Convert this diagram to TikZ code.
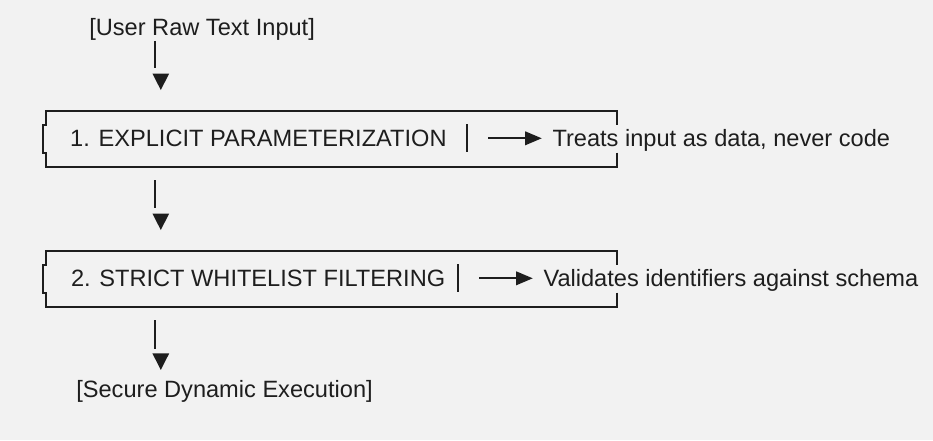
\documentclass[tikz,border=0pt]{standalone}
\usepackage{fontspec}
\setmainfont{Liberation Sans}
\usetikzlibrary{arrows.meta,calc}

\definecolor{paper}{HTML}{F2F2F2}
\definecolor{ink}{HTML}{1E1E1E}

\tikzset{
  words/.style={inner sep=0pt, outer sep=0pt, anchor=base west, text=ink,
    font=\fontsize{23.6}{28}\selectfont},
  stepframe/.style={minimum width=571.2pt, minimum height=56pt, inner sep=0pt, outer sep=0pt},
  frameline/.style={draw=ink, line width=2pt},
  stemline/.style={draw=ink, line width=2pt},
  aside/.style={draw=ink, line width=2pt,
    -{Triangle[width=14pt,length=16.5pt,line width=0pt]}}
}

% outline of a step box: notch on the left, gap on the right
\newcommand\notchedframe[1]{%
  \draw[frameline] ($(#1.east)+(0,13.8)$) -- (#1.south east) -- (#1.south west)
    -- ($(#1.west)+(0,13.8)$) -- ++(-2.2,0) -- ++(0,-27.6) -- ++(2.2,0)
    -- (#1.north west) -- (#1.north east) -- ($(#1.east)+(0,-13.8)$);}
% downward arrow head, point given
\newcommand\downtip[1]{\fill[ink] (#1) -- ++(-8.4,-16.5) -- ++(16.8,0) -- cycle;}

\begin{document}
\begin{tikzpicture}[x=1pt,y=-1pt]
  \fill[paper] (0,0) rectangle (933,440);
  \useasboundingbox (0,0) rectangle (933,440);

  \coordinate (stem) at (155,0);
  \coordinate (tipx) at (160.8,0);

  \node[words] (input) at (89.3,35) {[User Raw Text Input]};

  % step 1
  \node[stepframe] (frame1) at (331.1,138.7) {};
  \node[words] (step1) at (70.2,146) {1. EXPLICIT PARAMETERIZATION};
  \coordinate (div1) at (466.7,138.3);
  \node[words] (note1) at (552.5,146) {Treats input as data, never code};

  % step 2
  \node[stepframe] (frame2) at (331.1,278.7) {};
  \node[words] (step2) at (71,286) {2. STRICT WHITELIST FILTERING};
  \coordinate (div2) at (457.7,278.3);
  \node[words] (note2) at (543.5,286) {Validates identifiers against schema};

  \node[words] (output) at (76.3,397.5) {[Secure Dynamic Execution]};

  \notchedframe{frame1}
  \notchedframe{frame2}

  \draw[frameline] ($(div1)+(0,-14)$) -- ($(div1)+(0,14)$);
  \draw[frameline] ($(div2)+(0,-14)$) -- ($(div2)+(0,14)$);

  \draw[aside, shorten <=21.3pt, shorten >=10.8pt] (div1) -- (div1 -| note1.west);
  \draw[aside, shorten <=21.3pt, shorten >=10.8pt] (div2) -- (div2 -| note2.west);

  \draw[stemline, shorten <=1pt, shorten >=42.4pt] (input.south -| stem) -- (frame1.north -| stem);
  \draw[stemline, shorten <=13.3pt, shorten >=42.7pt] (frame1.south -| stem) -- (frame2.north -| stem);
  \draw[stemline, shorten <=13.3pt, shorten >=31.5pt] (frame2.south -| stem) -- (output.north -| stem);

  \downtip{$(frame1.north -| tipx)+(0,-20.7)$}
  \downtip{$(frame2.north -| tipx)+(0,-20.7)$}
  \downtip{$(output.north -| tipx)+(0,-10.5)$}
\end{tikzpicture}
\end{document}
